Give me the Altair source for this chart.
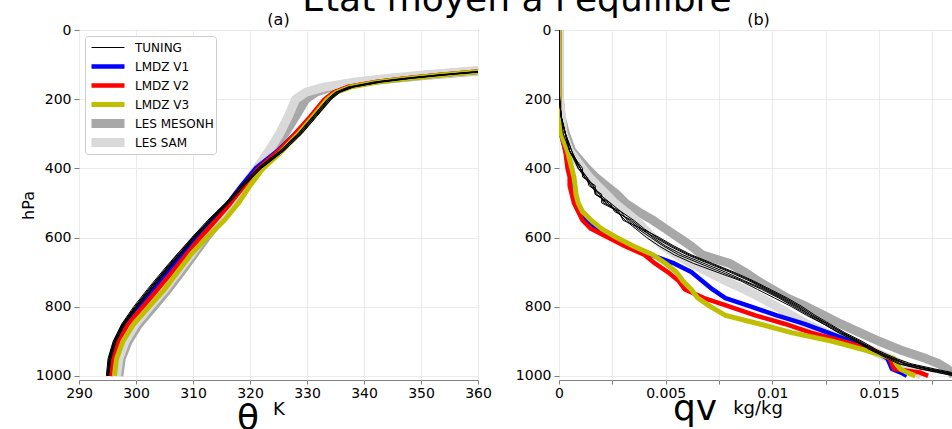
import altair as alt
import pandas as pd

FONT = "DejaVu Sans"

SERIES = ["TUNING", "LMDZ V1", "LMDZ V2", "LMDZ V3", "LES MESONH", "LES SAM"]
COLORS = ["#000000", "#0000ff", "#ff0000", "#bfbf00", "#a8a8a8", "#d9d9d9"]
WIDTHS = [1, 4.5, 4.5, 5, 9, 9]
DRAW_ORDER = ["LES MESONH", "LES SAM", "LMDZ V1", "LMDZ V2", "LMDZ V3", "TUNING"]

MAIN_TITLE = "État moyen à l'équilibre"
PANEL_TITLES = ["(a)", "(b)"]
Y_TITLE = "hPa"
X_SYMBOLS = ["θ", "qv"]
X_UNITS = ["K", "kg/kg"]

# ---------------- panel (a): potential temperature ----------------
P_A = [1000, 950, 900, 850, 800, 750, 700, 650, 600, 550, 500, 450, 400,
       350, 300, 250, 200, 180, 165, 150, 140, 130, 120, 110]

TH_TUNING = [
    [295.0, 295.3, 296.2, 297.7, 299.9, 302.3, 304.8, 307.4, 310.1, 313.0, 316.0, 318.6, 321.6, 325.5, 328.7, 331.3, 333.9, 335.3, 337.6, 342.5, 347.5, 353.5, 360.5, 368.0],
    [294.8, 295.1, 296.0, 297.5, 299.6, 302.0, 304.5, 307.1, 309.9, 312.8, 315.8, 318.7, 321.9, 325.8, 329.0, 331.6, 334.2, 335.6, 338.0, 343.0, 348.0, 354.0, 361.0, 368.5],
    [295.1, 295.5, 296.4, 297.9, 300.2, 302.6, 305.0, 307.6, 310.3, 313.1, 316.2, 318.9, 321.8, 325.6, 328.8, 331.4, 334.0, 335.5, 337.8, 342.8, 347.8, 353.8, 360.8, 368.2],
    [294.9, 295.2, 296.1, 297.6, 299.8, 302.2, 304.7, 307.2, 309.8, 312.6, 315.7, 318.4, 321.4, 325.3, 328.5, 331.1, 333.7, 335.1, 337.4, 342.2, 347.2, 353.2, 360.2, 367.8],
    [295.2, 295.6, 296.5, 298.1, 300.4, 302.8, 305.3, 307.9, 310.5, 313.4, 316.4, 319.0, 322.0, 325.9, 329.1, 331.7, 334.3, 335.8, 338.2, 343.2, 348.2, 354.2, 361.2, 368.6],
    [295.0, 295.4, 296.3, 297.8, 300.0, 302.4, 304.9, 307.5, 310.0, 312.9, 315.9, 318.5, 321.3, 325.2, 328.4, 331.0, 333.6, 335.0, 337.2, 342.0, 347.0, 353.0, 360.0, 367.5],
]
TH_V1 = [295.3, 295.7, 296.6, 298.2, 300.5, 303.0, 305.5, 308.0, 310.6, 313.4, 316.2, 318.5, 321.0, 324.8, 328.0, 330.8, 333.3, 334.9, 337.3, 342.3, 347.3, 353.3, 360.3, 368.0]
TH_V2 = [295.5, 295.9, 296.9, 298.6, 301.2, 303.8, 306.3, 308.8, 311.3, 314.0, 316.6, 319.0, 321.5, 325.0, 327.9, 330.6, 333.1, 334.7, 337.1, 342.1, 347.1, 353.1, 360.1, 367.8]
TH_V3 = [296.2, 296.6, 297.7, 299.6, 302.3, 305.0, 307.3, 309.6, 312.4, 315.5, 318.0, 320.0, 322.3, 325.6, 328.5, 331.1, 333.6, 335.2, 337.6, 342.6, 347.6, 353.6, 360.6, 368.3]
TH_MESONH = [297.0, 297.4, 298.6, 300.5, 303.1, 305.6, 307.9, 310.1, 312.3, 314.7, 317.1, 319.4, 321.6, 323.9, 326.1, 328.0, 329.8, 331.5, 334.3, 339.5, 345.0, 351.5, 359.0, 367.0]
TH_SAM = [296.6, 297.0, 298.1, 299.9, 302.4, 305.0, 307.3, 309.6, 311.8, 314.3, 316.8, 319.0, 321.2, 323.3, 325.2, 326.7, 328.0, 329.8, 333.0, 338.5, 344.0, 350.5, 358.0, 366.0]

# ---------------- panel (b): specific humidity ----------------
P_B = [1000, 990, 980, 965, 950, 925, 900, 875, 850, 825, 800, 775, 750, 725,
       700, 675, 650, 625, 600, 575, 550, 525, 500, 475, 450, 425, 400, 350,
       300, 250, 200, 150, 0]

QV_TUNING = [
    [0.0190, 0.0182, 0.0174, 0.0163, 0.0157, 0.0147, 0.0140, 0.0132, 0.0125, 0.0118, 0.0112, 0.0105, 0.0097, 0.0089, 0.0080, 0.0070, 0.0060, 0.0052, 0.0045, 0.0038, 0.0033, 0.0027, 0.0022, 0.0018, 0.0015, 0.0012, 0.0010, 0.0005, 0.0003, 0.0001, 0.00003, 0.0, 0.0],
    [0.0188, 0.0180, 0.0172, 0.0162, 0.0156, 0.0148, 0.0141, 0.0133, 0.0126, 0.0119, 0.0113, 0.0106, 0.0098, 0.0090, 0.0081, 0.0071, 0.0061, 0.0053, 0.0046, 0.0040, 0.0035, 0.0029, 0.0024, 0.0019, 0.0016, 0.0013, 0.0010, 0.0006, 0.0003, 0.0001, 0.00003, 0.0, 0.0],
    [0.0186, 0.0178, 0.0170, 0.0160, 0.0155, 0.0146, 0.0139, 0.0131, 0.0124, 0.0116, 0.0109, 0.0101, 0.0093, 0.0085, 0.0074, 0.0063, 0.0054, 0.0047, 0.0041, 0.0036, 0.0031, 0.0027, 0.0023, 0.0017, 0.0016, 0.0012, 0.0009, 0.0005, 0.0003, 0.0001, 0.00002, 0.0, 0.0],
    [0.0192, 0.0184, 0.0176, 0.0165, 0.0158, 0.0149, 0.0142, 0.0134, 0.0127, 0.0120, 0.0114, 0.0107, 0.0099, 0.0091, 0.0082, 0.0072, 0.0062, 0.0054, 0.0047, 0.0039, 0.0030, 0.0028, 0.0020, 0.0020, 0.0014, 0.0013, 0.0009, 0.0006, 0.0003, 0.0001, 0.00003, 0.0, 0.0],
    [0.0189, 0.0181, 0.0173, 0.0162, 0.0156, 0.0147, 0.0140, 0.0133, 0.0126, 0.0118, 0.0111, 0.0104, 0.0096, 0.0087, 0.0078, 0.0068, 0.0058, 0.0050, 0.0044, 0.0039, 0.0034, 0.0026, 0.0024, 0.0017, 0.0017, 0.0011, 0.0011, 0.0005, 0.0003, 0.0001, 0.00003, 0.0, 0.0],
    [0.0185, 0.0177, 0.0169, 0.0159, 0.0154, 0.0146, 0.0139, 0.0131, 0.0124, 0.0117, 0.0110, 0.0103, 0.0095, 0.0086, 0.0076, 0.0066, 0.0056, 0.0049, 0.0043, 0.0037, 0.0032, 0.0029, 0.0021, 0.0019, 0.0015, 0.0012, 0.0010, 0.0005, 0.0002, 0.0001, 0.00002, 0.0, 0.0],
]
QV_V1 = [0.0163, 0.0160, 0.0156, 0.0155, 0.0154, 0.0147, 0.0137, 0.0126, 0.0115, 0.0102, 0.0090, 0.0078, 0.0072, 0.0067, 0.0062, 0.0054, 0.0043, 0.0033, 0.0025, 0.0017, 0.0012, 0.0010, 0.0008, 0.0007, 0.0007, 0.0006, 0.0006, 0.0003, 0.0001, 0.00002, 0.0, 0.0, 0.0]
QV_V2 = [0.0173, 0.0169, 0.0157, 0.0156, 0.0155, 0.0147, 0.0133, 0.0118, 0.0106, 0.0092, 0.0080, 0.0068, 0.0059, 0.0056, 0.0051, 0.0045, 0.0040, 0.0031, 0.0023, 0.0015, 0.0011, 0.0009, 0.0007, 0.0006, 0.0005, 0.0005, 0.0004, 0.0003, 0.0001, 0.00002, 0.0, 0.0, 0.0]
QV_V3 = [0.0167, 0.0163, 0.0160, 0.0158, 0.0157, 0.0143, 0.0128, 0.0109, 0.0094, 0.0078, 0.0071, 0.0065, 0.0062, 0.0058, 0.0055, 0.0050, 0.0044, 0.0035, 0.0027, 0.0020, 0.0015, 0.0011, 0.0009, 0.0008, 0.00075, 0.0007, 0.0006, 0.0004, 0.0001, 0.00002, 0.0, 0.0, 0.0]
QV_MESONH = [0.0185, 0.0184, 0.0182, 0.0178, 0.0172, 0.0160, 0.0150, 0.0141, 0.0132, 0.0124, 0.0116, 0.0107, 0.0100, 0.0093, 0.0087, 0.0080, 0.0067, 0.0062, 0.0056, 0.0050, 0.0044, 0.0037, 0.0031, 0.0027, 0.0022, 0.0017, 0.0013, 0.0006, 0.0003, 0.0001, 0.00002, 0.0, 0.0]
QV_SAM = [0.0170, 0.0168, 0.0165, 0.0160, 0.0155, 0.0146, 0.0136, 0.0125, 0.0116, 0.0109, 0.0102, 0.0095, 0.0087, 0.0078, 0.0070, 0.0062, 0.0055, 0.0049, 0.0044, 0.0040, 0.0036, 0.0031, 0.0026, 0.0022, 0.0018, 0.0014, 0.0011, 0.0005, 0.0002, 0.0001, 0.00002, 0.0, 0.0]


def build(levels, tuning, v1, v2, v3, mesonh, sam):
    rows = []
    def add(series, member, vals):
        for i, (p, v) in enumerate(zip(levels, vals)):
            rows.append({"series": series, "member": member, "idx": i, "p": p, "v": v})
    for k, vals in enumerate(tuning):
        add("TUNING", "T%d" % k, vals)
    add("LMDZ V1", "V1", v1)
    add("LMDZ V2", "V2", v2)
    add("LMDZ V3", "V3", v3)
    add("LES MESONH", "MESONH", mesonh)
    add("LES SAM", "SAM", sam)
    return pd.DataFrame(rows)


df_a = build(P_A, TH_TUNING, TH_V1, TH_V2, TH_V3, TH_MESONH, TH_SAM)
df_b = build(P_B, QV_TUNING, QV_V1, QV_V2, QV_V3, QV_MESONH, QV_SAM)

W, H = 399, 350
color_scale = alt.Scale(domain=SERIES, range=COLORS)
width_scale = alt.Scale(type="ordinal", domain=SERIES, range=WIDTHS)
y_scale = alt.Scale(domain=[0, 1012], reverse=True, nice=False, zero=False)


def text_layer(txt, size, x, y):
    return (
        alt.Chart(pd.DataFrame({"t": [txt]}))
        .mark_text(fontSize=size, font=FONT, baseline="alphabetic", align="center", color="black")
        .encode(text="t:N", x=alt.value(x), y=alt.value(y))
    )


def panel(df, x_scale, x_axis, y_axis, legend, extra_texts):
    layers = []
    for s in DRAW_ORDER:
        layers.append(
            alt.Chart(df)
            .transform_filter(alt.datum.series == s)
            .mark_line(clip=True, strokeJoin="round")
            .encode(
                x=alt.X("v:Q", scale=x_scale, axis=x_axis),
                y=alt.Y("p:Q", scale=y_scale, axis=y_axis),
                color=alt.Color("series:N", scale=color_scale, legend=legend),
                strokeWidth=alt.StrokeWidth("series:N", scale=width_scale, legend=legend),
                detail="member:N",
                order="idx:Q",
            )
        )
    for t in extra_texts:
        layers.append(text_layer(*t))
    return alt.layer(*layers).properties(width=W, height=H)


legend_a = alt.Legend(
    title=None, orient="none", legendX=6, legendY=6, symbolType="stroke",
    symbolSize=1089, labelFontSize=12, labelFont=FONT, fillColor="white",
    strokeColor="#cccccc", cornerRadius=3, padding=2, rowPadding=0, clipHeight=19,
    labelOffset=6,
)

Y_TICKS = [0, 200, 400, 600, 800, 1000]
yaxis_a = alt.Axis(values=Y_TICKS, title=Y_TITLE, titleFontSize=16, format="d",
                   titleFontWeight="normal", titlePadding=-1, tickSize=5, labelPadding=3)
yaxis_b = alt.Axis(values=Y_TICKS, title=None, tickSize=5, labelPadding=3, format="d")

xaxis_a = alt.Axis(values=[290, 300, 310, 320, 330, 340, 350, 360], title=None,
                   tickSize=4, labelPadding=2, labelFlush=False)
xaxis_b = alt.Axis(values=[0, 0.0025, 0.005, 0.0075, 0.01, 0.0125, 0.015, 0.0175],
                   title=None, format="~g", tickSize=4, labelPadding=2, labelFlush=False,
                   labelExpr="round(datum.value*10000) % 50 == 0 ? datum.label : ''")

pa = panel(
    df_a, alt.Scale(domain=[290, 360], nice=False, zero=False), xaxis_a, yaxis_a, legend_a,
    [(PANEL_TITLES[0], 16, 199.5, -5), (X_SYMBOLS[0], 36, 169, 400),
     (X_UNITS[0], 18, 200, 385), (MAIN_TITLE, 36, 438, -19)],
)
pb = panel(
    df_b, alt.Scale(domain=[0, 0.0187], nice=False, zero=False), xaxis_b, yaxis_b, None,
    [(PANEL_TITLES[1], 16, 199.5, -5), (X_SYMBOLS[1], 36, 136, 390),
     (X_UNITS[1], 18, 199, 384)],
)

chart = (
    alt.hconcat(pa, pb, spacing=81, bounds="flush")
    .resolve_scale(color="independent", strokeWidth="independent")
    .properties(
        autosize=alt.AutoSizeParams(type="none"),
        padding={"left": 79, "top": 30, "right": 873, "bottom": 399},
    )
    .configure(font=FONT)
    .configure_axis(labelFontSize=14, labelColor="#000000", labelFont=FONT, titleFont=FONT,
                    titleColor="#000000", tickColor="#808080", gridColor="#ebebeb",
                    domain=False, labelOverlap=False)
    .configure_view(stroke="#808080", strokeWidth=1)
    .configure_title(font=FONT, color="#000000")
)

chart.save("out.html", embed_options={"renderer": "svg", "actions": False})
